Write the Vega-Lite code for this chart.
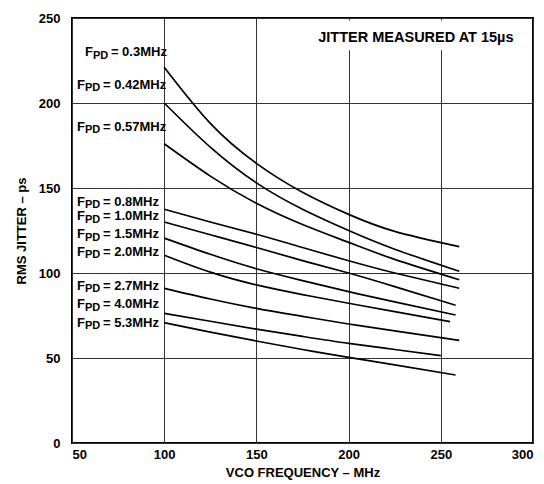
{
  "$schema": "https://vega.github.io/schema/vega-lite/v6.json",
  "width": 461,
  "height": 425,
  "autosize": "none",
  "padding": {"left": 72, "top": 18, "right": 11, "bottom": 41},
  "background": "white",
  "config": {
    "font": "Liberation Sans",
    "view": {"stroke": "black", "strokeWidth": 2},
    "axis": {
      "ticks": false,
      "domain": false,
      "labelFont": "Liberation Sans",
      "labelFontWeight": "bold",
      "labelFontSize": 13,
      "labelColor": "black",
      "titleFont": "Liberation Sans",
      "titleFontWeight": "bold",
      "titleFontSize": 13,
      "titleColor": "black",
      "gridColor": "#333333",
      "gridWidth": 1,
      "gridOpacity": 1
    }
  },
  "datasets": {
    "curves": [
      {"f": "0.3", "x": 100, "y": 221}, {"f": "0.3", "x": 125, "y": 188}, {"f": "0.3", "x": 150, "y": 164.5}, {"f": "0.3", "x": 175, "y": 147.5}, {"f": "0.3", "x": 200, "y": 134.5}, {"f": "0.3", "x": 225, "y": 124.5}, {"f": "0.3", "x": 260, "y": 115.5},
      {"f": "0.42", "x": 100, "y": 200}, {"f": "0.42", "x": 125, "y": 174}, {"f": "0.42", "x": 150, "y": 153}, {"f": "0.42", "x": 175, "y": 137.5}, {"f": "0.42", "x": 200, "y": 125}, {"f": "0.42", "x": 225, "y": 114}, {"f": "0.42", "x": 260, "y": 101},
      {"f": "0.57", "x": 100, "y": 176}, {"f": "0.57", "x": 125, "y": 157}, {"f": "0.57", "x": 150, "y": 141}, {"f": "0.57", "x": 175, "y": 128.5}, {"f": "0.57", "x": 200, "y": 118}, {"f": "0.57", "x": 225, "y": 108}, {"f": "0.57", "x": 260, "y": 96},
      {"f": "0.8", "x": 100, "y": 137.5}, {"f": "0.8", "x": 125, "y": 130}, {"f": "0.8", "x": 150, "y": 122.8}, {"f": "0.8", "x": 175, "y": 115}, {"f": "0.8", "x": 200, "y": 107.2}, {"f": "0.8", "x": 225, "y": 100}, {"f": "0.8", "x": 260, "y": 91},
      {"f": "1.0", "x": 100, "y": 130}, {"f": "1.0", "x": 125, "y": 122.5}, {"f": "1.0", "x": 150, "y": 115}, {"f": "1.0", "x": 175, "y": 107.3}, {"f": "1.0", "x": 200, "y": 100}, {"f": "1.0", "x": 225, "y": 92}, {"f": "1.0", "x": 258, "y": 81},
      {"f": "1.5", "x": 100, "y": 120.5}, {"f": "1.5", "x": 125, "y": 111}, {"f": "1.5", "x": 150, "y": 102.5}, {"f": "1.5", "x": 175, "y": 95.5}, {"f": "1.5", "x": 200, "y": 89}, {"f": "1.5", "x": 225, "y": 83}, {"f": "1.5", "x": 258, "y": 75.3},
      {"f": "2.0", "x": 100, "y": 110.5}, {"f": "2.0", "x": 125, "y": 100.5}, {"f": "2.0", "x": 150, "y": 93}, {"f": "2.0", "x": 175, "y": 87.3}, {"f": "2.0", "x": 200, "y": 82.2}, {"f": "2.0", "x": 225, "y": 77.3}, {"f": "2.0", "x": 255, "y": 71.4},
      {"f": "2.7", "x": 100, "y": 91}, {"f": "2.7", "x": 125, "y": 84.7}, {"f": "2.7", "x": 150, "y": 79.2}, {"f": "2.7", "x": 175, "y": 74.5}, {"f": "2.7", "x": 200, "y": 70}, {"f": "2.7", "x": 225, "y": 66}, {"f": "2.7", "x": 260, "y": 60.4},
      {"f": "4.0", "x": 100, "y": 76.3}, {"f": "4.0", "x": 125, "y": 71.6}, {"f": "4.0", "x": 150, "y": 67}, {"f": "4.0", "x": 175, "y": 62.7}, {"f": "4.0", "x": 200, "y": 58.6}, {"f": "4.0", "x": 225, "y": 55}, {"f": "4.0", "x": 250, "y": 51.4},
      {"f": "5.3", "x": 100, "y": 70.8}, {"f": "5.3", "x": 125, "y": 65.2}, {"f": "5.3", "x": 150, "y": 60}, {"f": "5.3", "x": 175, "y": 55}, {"f": "5.3", "x": 200, "y": 50.4}, {"f": "5.3", "x": 225, "y": 46}, {"f": "5.3", "x": 258, "y": 40}
    ],
    "labels": [
      {"rest": "= 0.3MHz", "x": 57, "y": 230},
      {"rest": "= 0.42MHz", "x": 52.7, "y": 210.6},
      {"rest": "= 0.57MHz", "x": 52.7, "y": 186},
      {"rest": "= 0.8MHz", "x": 52.7, "y": 142},
      {"rest": "= 1.0MHz", "x": 52.7, "y": 133.5},
      {"rest": "= 1.5MHz", "x": 52.7, "y": 122.8},
      {"rest": "= 2.0MHz", "x": 52.7, "y": 112.5},
      {"rest": "= 2.7MHz", "x": 52.7, "y": 92.4},
      {"rest": "= 4.0MHz", "x": 52.7, "y": 81.6},
      {"rest": "= 5.3MHz", "x": 52.7, "y": 70.8}
    ],
    "note": [
      {"text": "JITTER MEASURED AT 15µs", "x": 236.5, "y": 238.4, "x1": 174, "x2": 299, "y1": 231, "y2": 248.5}
    ]
  },
  "layer": [
    {
      "data": {"name": "note"},
      "mark": {"type": "rect", "fill": "white", "stroke": null},
      "encoding": {
        "x": {"field": "x1", "type": "quantitative", "scale": {"domain": [50, 300], "nice": false},
          "axis": {"values": [50, 100, 150, 200, 250, 300], "title": "VCO FREQUENCY – MHz", "labelPadding": 5, "titlePadding": 5, "grid": true}},
        "x2": {"field": "x2"},
        "y": {"field": "y1", "type": "quantitative", "scale": {"domain": [0, 250], "nice": false},
          "axis": {"values": [0, 50, 100, 150, 200, 250], "title": "RMS JITTER – ps", "labelPadding": 12, "titlePadding": 10, "grid": true}},
        "y2": {"field": "y2"}
      }
    },
    {
      "data": {"name": "curves"},
      "mark": {"type": "line", "color": "black", "strokeWidth": 1.7, "interpolate": "natural"},
      "encoding": {
        "x": {"field": "x", "type": "quantitative"},
        "y": {"field": "y", "type": "quantitative"},
        "detail": {"field": "f", "type": "nominal"}
      }
    },
    {
      "data": {"name": "labels"},
      "mark": {"type": "text", "text": "F", "align": "left", "baseline": "middle", "fontWeight": "bold", "fontSize": 13, "color": "black"},
      "encoding": {
        "x": {"field": "x", "type": "quantitative"},
        "y": {"field": "y", "type": "quantitative"}
      }
    },
    {
      "data": {"name": "labels"},
      "mark": {"type": "text", "text": "PD", "align": "left", "baseline": "middle", "fontWeight": "bold", "fontSize": 11, "dx": 8, "dy": 3.5, "color": "black"},
      "encoding": {
        "x": {"field": "x", "type": "quantitative"},
        "y": {"field": "y", "type": "quantitative"}
      }
    },
    {
      "data": {"name": "labels"},
      "mark": {"type": "text", "align": "left", "baseline": "middle", "fontWeight": "bold", "fontSize": 13, "dx": 26, "color": "black"},
      "encoding": {
        "x": {"field": "x", "type": "quantitative"},
        "y": {"field": "y", "type": "quantitative"},
        "text": {"field": "rest"}
      }
    },
    {
      "data": {"name": "note"},
      "mark": {"type": "text", "align": "center", "baseline": "middle", "fontWeight": "bold", "fontSize": 14.5, "color": "black"},
      "encoding": {
        "x": {"field": "x", "type": "quantitative"},
        "y": {"field": "y", "type": "quantitative"},
        "text": {"field": "text"}
      }
    }
  ]
}
